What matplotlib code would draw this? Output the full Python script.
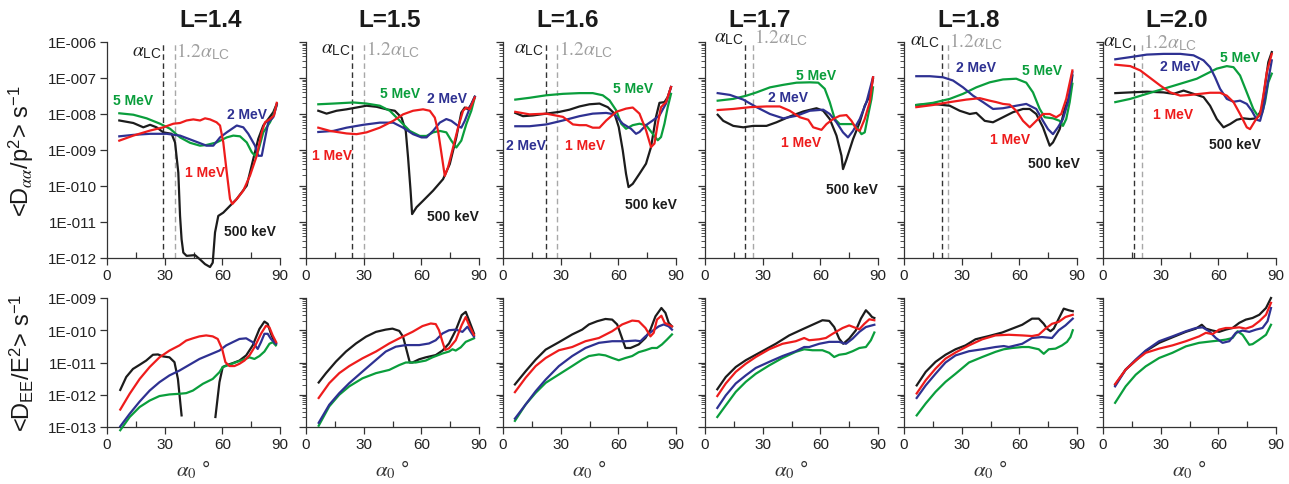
import numpy as np
import matplotlib
matplotlib.use('Agg')
import matplotlib.pyplot as plt
import matplotlib.transforms as mtransforms
from matplotlib.ticker import FixedLocator, FuncFormatter, LogLocator, NullFormatter, NullLocator

plt.rcParams['font.family'] = ['Liberation Sans', 'DejaVu Sans']
plt.rcParams['mathtext.fontset'] = 'stix'

# ---------------- data ----------------
L_titles = ['L=1.4', 'L=1.5', 'L=1.6', 'L=1.7', 'L=1.8', 'L=2.0']
energies = ['500 keV', '1 MeV', '2 MeV', '5 MeV']
alc = [29.3, 23.8, 22.2, 20.8, 19.6, 16.1]
alc12 = [35.3, 30.2, 28.3, 24.8, 22.7, 20.1]

# Top row: pitch-angle diffusion <Daa/p^2> (log10 values) vs equatorial pitch angle (deg)
aa14_500 = [6.4,13.7,18.9,22.4,25.8,29.3,33.6,35.4,37.1,38.0,38.8,39.7,41.4,45.8,48.4,51.0,53.6,55.0,56.2,57.9,60.5,64.0,67.5,72.7,76.1,78.7,81.3,83.9,86.5,88.3]
la14_500 = [-8.18,-8.25,-8.37,-8.30,-8.37,-8.51,-8.55,-8.79,-9.63,-10.83,-11.48,-11.85,-11.94,-11.92,-12.04,-12.17,-12.25,-12.13,-11.29,-10.83,-10.74,-10.55,-10.36,-9.99,-9.25,-8.69,-8.32,-8.14,-7.95,-7.72]
aa14_1 = [6.4,13.7,22.4,29.3,34.5,38.0,41.4,44.9,48.4,51.0,53.6,57.0,58.8,60.5,62.3,64.0,65.2,67.5,70.9,74.4,77.9,80.5,82.2,84.8,86.9,88.3]
la14_1 = [-8.74,-8.60,-8.46,-8.37,-8.27,-8.25,-8.18,-8.15,-8.18,-8.12,-8.15,-8.23,-8.32,-8.79,-9.62,-10.36,-10.50,-10.36,-10.13,-9.71,-9.16,-8.51,-8.23,-8.14,-8.04,-7.69]
aa14_2 = [6.4,13.7,22.4,31.0,38.0,44.9,51.8,55.3,58.8,62.3,67.5,70.9,73.5,77.0,78.7,80.5,82.2,83.9,86.5,88.3]
la14_2 = [-8.62,-8.58,-8.55,-8.55,-8.60,-8.74,-8.88,-8.88,-8.65,-8.51,-8.32,-8.37,-8.55,-8.88,-9.16,-9.16,-8.69,-8.23,-8.09,-7.75]
aa14_5 = [6.4,13.7,20.6,27.6,32.8,38.0,43.2,48.4,51.8,57.0,62.3,65.7,69.2,72.7,75.3,77.0,78.7,81.3,84.8,86.5,88.3]
la14_5 = [-7.98,-8.02,-8.12,-8.27,-8.41,-8.65,-8.80,-8.88,-8.86,-8.79,-8.65,-8.60,-8.62,-8.79,-9.06,-9.16,-9.02,-8.51,-8.23,-8.04,-7.75]

aa15_500 = [6.4,10.7,15.9,21.1,26.3,31.5,36.7,41.9,46.2,49.7,51.9,53.1,54.4,55.2,57.5,60.9,66.1,71.3,74.8,78.2,80.8,82.6,84.3,86.0,87.8]
la15_500 = [-7.91,-7.99,-7.91,-7.87,-7.82,-7.77,-7.80,-7.87,-7.91,-8.10,-8.47,-9.21,-10.13,-10.78,-10.59,-10.41,-10.13,-9.81,-9.39,-8.65,-7.96,-7.82,-7.87,-7.73,-7.52]
aa15_1 = [6.4,12.5,21.1,26.3,31.5,38.4,45.4,50.5,55.7,60.9,64.4,67.0,68.7,70.5,72.2,73.9,76.5,79.1,81.7,83.4,85.2,87.8]
la15_1 = [-8.38,-8.47,-8.54,-8.56,-8.51,-8.38,-8.19,-8.01,-7.91,-7.87,-7.91,-8.10,-8.47,-9.11,-9.72,-9.48,-8.93,-8.38,-7.91,-7.82,-7.87,-7.54]
aa15_2 = [6.4,14.2,21.1,29.8,38.4,45.4,50.5,55.7,60.1,62.7,66.1,69.6,73.0,75.6,79.1,80.8,82.6,84.3,86.0,87.8]
la15_2 = [-8.50,-8.47,-8.38,-8.30,-8.24,-8.24,-8.38,-8.56,-8.65,-8.65,-8.47,-8.24,-8.14,-8.19,-8.33,-8.38,-8.19,-7.96,-7.73,-7.52]
aa15_5 = [6.4,14.2,24.6,31.5,38.4,43.6,48.8,54.0,59.2,62.7,66.1,69.6,73.0,75.6,78.2,80.8,83.4,86.0,87.8]
la15_5 = [-7.73,-7.71,-7.68,-7.71,-7.77,-7.91,-8.19,-8.47,-8.61,-8.61,-8.51,-8.47,-8.51,-8.74,-8.93,-8.74,-8.28,-7.91,-7.54]

aa16_500 = [6.4,10.4,15.6,22.5,29.4,34.6,39.8,45.0,50.2,54.5,58.0,60.2,62.3,64.0,65.3,67.5,71.0,74.4,77.0,79.6,81.4,84.0,85.7,87.4]
la16_500 = [-7.97,-8.06,-8.04,-7.99,-7.94,-7.88,-7.79,-7.73,-7.71,-7.81,-7.99,-8.36,-9.01,-9.66,-10.03,-9.94,-9.66,-9.38,-8.92,-8.08,-7.69,-7.67,-7.53,-7.25]
aa16_1 = [6.4,13.8,22.5,31.2,36.4,39.8,43.3,46.7,50.2,53.7,58.9,64.0,67.5,71.0,74.4,77.0,78.8,80.5,82.2,84.8,87.4]
la16_1 = [-7.94,-8.01,-7.99,-8.08,-8.29,-8.31,-8.31,-8.38,-8.38,-8.18,-7.94,-7.85,-7.82,-7.99,-8.45,-8.92,-8.82,-8.27,-7.81,-7.67,-7.25]
aa16_2 = [6.4,13.8,22.5,31.2,39.8,46.7,53.7,58.0,62.3,66.6,69.2,71.0,74.4,77.9,81.4,84.8,87.4]
la16_2 = [-8.34,-8.34,-8.29,-8.18,-8.06,-7.99,-7.97,-8.01,-8.27,-8.41,-8.55,-8.50,-8.31,-8.18,-8.04,-7.71,-7.25]
aa16_5 = [6.4,13.8,22.5,31.2,39.8,46.7,51.9,55.4,58.9,61.5,64.0,67.5,71.0,74.4,77.9,80.5,82.2,84.0,85.7,87.4]
la16_5 = [-7.60,-7.55,-7.48,-7.44,-7.42,-7.42,-7.48,-7.62,-7.90,-8.27,-8.41,-8.31,-8.27,-8.31,-8.55,-8.73,-8.64,-8.27,-7.81,-7.44]

aa17_500 = [6.6,9.5,14.7,19.9,25.1,32.0,37.2,44.1,51.1,58.0,61.5,64.9,68.4,71.0,71.8,73.6,77.0,80.5,83.1,85.7,87.4]
la17_500 = [-8.02,-8.19,-8.33,-8.37,-8.33,-8.33,-8.23,-8.07,-7.93,-7.84,-7.91,-8.14,-8.60,-9.16,-9.53,-9.26,-8.70,-8.23,-7.77,-7.49,-7.02]
aa17_1 = [6.6,14.7,23.4,32.0,38.9,44.1,49.3,53.7,56.3,60.6,63.2,66.6,70.1,73.6,76.2,78.8,80.5,83.1,85.7,87.4]
la17_1 = [-7.89,-7.86,-7.81,-7.79,-7.79,-7.91,-8.09,-8.16,-8.37,-8.44,-8.28,-8.14,-8.05,-8.03,-8.19,-8.42,-8.47,-8.14,-7.67,-6.98]
aa17_2 = [6.6,13.0,19.9,26.8,33.8,40.7,47.6,54.5,61.5,64.9,68.4,71.8,74.4,77.0,80.5,84.0,87.4]
la17_2 = [-7.42,-7.47,-7.60,-7.81,-8.00,-8.12,-8.05,-7.91,-7.88,-8.00,-8.23,-8.51,-8.65,-8.47,-8.14,-7.67,-6.98]
aa17_5 = [6.6,14.7,21.6,26.8,33.8,40.7,47.6,54.5,58.9,62.3,64.9,67.5,70.1,73.6,77.0,79.6,81.4,83.1,84.8,86.6,87.4]
la17_5 = [-7.63,-7.58,-7.49,-7.40,-7.26,-7.19,-7.13,-7.12,-7.13,-7.30,-7.67,-8.14,-8.28,-8.28,-8.28,-8.42,-8.56,-8.51,-8.05,-7.58,-7.26]

aa18_500 = [6.4,15.1,23.8,29.0,34.2,37.6,42.0,46.3,51.5,56.7,61.9,65.4,68.8,72.3,75.8,77.5,81.0,83.6,86.2,87.6]
la18_500 = [-7.75,-7.72,-7.77,-7.91,-8.00,-7.97,-8.19,-8.23,-8.09,-7.95,-7.86,-7.86,-8.00,-8.37,-8.88,-8.79,-8.42,-7.86,-7.49,-6.93]
aa18_1 = [6.4,15.1,23.8,32.4,39.4,44.6,48.0,51.5,55.0,58.4,61.9,65.4,68.8,72.3,75.8,79.2,81.8,84.4,87.6]
la18_1 = [-7.81,-7.75,-7.67,-7.60,-7.56,-7.63,-7.67,-7.72,-7.74,-7.91,-8.19,-8.37,-8.19,-8.00,-8.00,-8.09,-8.00,-7.58,-6.79]
aa18_2 = [6.4,13.4,20.3,25.5,30.7,35.9,41.1,46.3,51.5,58.4,63.6,68.8,72.3,74.9,77.5,80.1,82.7,85.3,87.6]
la18_2 = [-6.95,-6.95,-6.98,-7.07,-7.26,-7.49,-7.67,-7.86,-7.84,-7.77,-7.72,-7.86,-8.19,-8.42,-8.56,-8.37,-8.14,-7.67,-6.84]
aa18_5 = [6.4,15.1,23.8,30.7,37.6,44.6,51.5,58.4,63.6,67.1,70.6,73.2,77.5,81.0,82.7,84.4,86.2,87.6]
la18_5 = [-7.75,-7.69,-7.58,-7.44,-7.26,-7.12,-7.04,-7.02,-7.13,-7.40,-7.86,-8.09,-8.12,-8.19,-8.33,-8.14,-7.67,-7.16]

aa20_500 = [6.4,14.2,22.8,31.5,36.7,41.9,47.1,52.3,55.7,59.2,62.7,66.1,69.6,73.0,76.5,80.0,82.6,84.3,86.0,87.8]
la20_500 = [-7.42,-7.40,-7.38,-7.40,-7.44,-7.35,-7.44,-7.53,-7.77,-8.14,-8.37,-8.28,-8.16,-8.12,-8.14,-8.12,-7.86,-7.21,-6.56,-6.28]
aa20_1 = [6.4,14.2,19.4,24.6,29.8,35.0,40.2,45.4,50.5,55.7,60.9,64.4,67.9,71.3,74.8,76.5,79.1,81.7,83.4,85.2,87.8]
la20_1 = [-6.63,-6.67,-6.79,-7.00,-7.21,-7.40,-7.49,-7.47,-7.44,-7.41,-7.41,-7.49,-7.67,-8.00,-8.37,-8.42,-8.19,-8.00,-7.49,-6.84,-6.33]
aa20_2 = [6.4,14.2,22.8,31.5,40.2,47.1,52.3,55.7,58.3,60.9,64.4,67.9,71.3,74.8,77.4,80.0,81.7,83.4,85.2,87.8]
la20_2 = [-6.48,-6.42,-6.35,-6.33,-6.33,-6.37,-6.51,-6.70,-6.98,-7.30,-7.58,-7.66,-7.63,-7.72,-7.91,-8.16,-8.19,-7.86,-7.30,-6.51]
aa20_5 = [6.4,14.2,22.8,31.5,40.2,48.8,54.0,59.2,64.4,67.9,71.3,74.8,78.2,80.8,82.6,84.3,86.0,87.8]
la20_5 = [-7.67,-7.58,-7.44,-7.30,-7.16,-7.02,-6.88,-6.74,-6.67,-6.70,-6.93,-7.40,-7.86,-8.07,-8.00,-7.67,-7.12,-6.88]

# Bottom row: energy diffusion <DEE/E^2> (log10 values)
nan = float('nan')
ae14_500 = [6.9,10.0,13.5,17.0,20.4,23.9,26.5,29.1,32.5,35.1,36.9,38.1,38.8,nan,56.4,57.1,58.5,60.2,62.8,65.4,68.9,72.4,75.8,79.3,81.9,83.6,85.3,86.8,88.0]
le14_500 = [-11.85,-11.45,-11.20,-11.07,-10.94,-10.76,-10.75,-10.81,-10.84,-10.99,-11.51,-12.23,-12.64,nan,-12.69,-12.33,-11.61,-11.14,-11.07,-11.02,-10.94,-10.78,-10.47,-9.96,-9.73,-9.80,-10.11,-10.32,-10.42]
ae14_1 = [6.9,11.8,17.0,22.2,27.3,32.5,37.7,41.2,44.7,48.1,51.6,55.0,57.6,59.9,61.6,63.7,66.3,68.9,71.5,74.1,76.7,80.1,82.7,84.5,86.2,88.0]
le14_1 = [-12.46,-11.97,-11.51,-11.14,-10.84,-10.63,-10.47,-10.32,-10.25,-10.19,-10.16,-10.19,-10.27,-10.58,-10.99,-11.11,-11.11,-11.04,-10.94,-10.78,-10.53,-10.11,-9.86,-9.91,-10.16,-10.37]
ae14_2 = [6.9,11.8,17.0,22.2,27.3,32.5,37.7,42.9,48.1,53.3,58.5,62.0,65.4,68.9,72.4,75.8,78.4,80.1,81.9,83.6,85.3,87.8]
le14_2 = [-12.98,-12.59,-12.21,-11.87,-11.61,-11.40,-11.25,-11.07,-10.89,-10.76,-10.63,-10.47,-10.37,-10.27,-10.25,-10.37,-10.58,-10.37,-10.11,-10.11,-10.27,-10.42]
ae14_5 = [6.9,11.8,17.0,22.2,27.3,32.5,37.7,41.2,44.7,49.9,55.0,58.5,60.2,63.7,67.2,70.6,74.1,76.7,79.3,81.9,84.5,86.2,87.8]
le14_5 = [-13.1,-12.69,-12.38,-12.18,-12.04,-11.99,-11.97,-11.95,-11.87,-11.66,-11.51,-11.30,-11.14,-11.07,-10.99,-10.92,-10.84,-10.89,-10.80,-10.66,-10.42,-10.37,-10.47]

ae15_500 = [6.6,10.4,15.6,20.8,26.0,31.2,36.4,41.5,45.0,48.5,50.5,52.3,54.0,55.4,58.9,62.3,67.5,71.0,74.4,77.9,81.0,83.1,84.8,87.4]
le15_500 = [-11.62,-11.33,-10.97,-10.66,-10.41,-10.20,-10.05,-9.98,-9.95,-10.02,-10.20,-10.61,-11.00,-11.00,-10.90,-10.84,-10.77,-10.63,-10.41,-10.00,-9.53,-9.43,-9.69,-10.10]
ae15_1 = [6.6,12.1,17.3,22.5,29.4,36.4,43.3,50.2,55.4,60.6,64.9,67.5,69.2,71.0,72.4,74.4,77.9,81.0,83.1,84.8,87.4]
le15_1 = [-12.10,-11.64,-11.33,-11.11,-10.87,-10.66,-10.41,-10.20,-10.05,-9.87,-9.79,-9.81,-10.00,-10.36,-10.61,-10.56,-10.31,-9.84,-9.59,-9.84,-10.15]
ae15_2 = [6.6,12.1,17.3,22.5,29.4,36.4,41.5,46.7,51.9,58.9,64.0,67.5,71.0,74.4,77.9,81.4,84.0,85.7,87.4]
le15_2 = [-12.87,-12.31,-11.95,-11.64,-11.28,-10.92,-10.66,-10.51,-10.46,-10.46,-10.41,-10.31,-10.10,-10.00,-9.98,-10.05,-9.89,-10.05,-10.20]
ae15_5 = [6.6,12.1,17.3,22.5,29.4,36.4,43.3,48.5,51.9,57.1,62.3,65.8,71.0,74.4,76.2,77.9,80.5,83.1,87.4]
le15_5 = [-12.96,-12.36,-12.00,-11.74,-11.49,-11.33,-11.23,-11.08,-11.00,-11.00,-10.94,-10.84,-10.72,-10.66,-10.59,-10.63,-10.53,-10.36,-10.25]

ae16_500 = [6.2,11.8,17.0,22.2,29.1,36.0,41.2,44.7,49.0,53.3,56.8,59.4,61.6,63.7,66.3,70.6,74.1,76.7,79.3,82.4,84.5,86.2,87.9]
le16_500 = [-11.68,-11.27,-10.91,-10.60,-10.37,-10.13,-9.98,-9.82,-9.72,-9.65,-9.67,-9.82,-10.19,-10.55,-10.55,-10.44,-10.24,-9.98,-9.57,-9.31,-9.46,-9.77,-9.88]
ae16_1 = [6.2,11.8,17.0,22.2,29.1,36.0,42.9,49.9,56.8,62.0,67.2,70.6,74.1,76.7,78.4,80.1,82.4,84.1,87.9]
le16_1 = [-11.92,-11.47,-11.11,-10.86,-10.62,-10.52,-10.34,-10.24,-10.03,-9.82,-9.70,-9.72,-9.93,-10.19,-10.08,-9.67,-9.55,-9.77,-9.88]
ae16_2 = [6.2,11.8,17.0,22.2,29.1,36.0,42.9,49.9,56.8,63.7,68.9,71.5,74.1,77.5,81.0,83.6,86.2,87.9]
le16_2 = [-12.74,-12.30,-11.89,-11.53,-11.11,-10.80,-10.55,-10.39,-10.34,-10.34,-10.32,-10.34,-10.19,-10.03,-9.88,-9.82,-9.88,-9.98]
ae16_5 = [6.2,11.8,17.0,22.2,29.1,36.0,41.2,44.7,49.9,53.3,56.8,60.2,63.7,67.2,70.6,74.1,77.5,80.1,82.7,85.3,87.9]
le16_5 = [-12.81,-12.30,-11.94,-11.63,-11.37,-11.11,-10.91,-10.80,-10.75,-10.78,-10.86,-10.93,-10.86,-10.80,-10.68,-10.62,-10.55,-10.55,-10.44,-10.29,-10.13]

ae17_500 = [6.4,10.8,16.0,21.2,26.4,31.6,36.8,43.8,50.7,55.9,61.1,64.6,67.2,69.8,71.9,75.0,78.5,81.1,83.7,85.5,86.9,88.1]
le17_500 = [-11.83,-11.45,-11.14,-10.93,-10.76,-10.59,-10.42,-10.16,-9.97,-9.83,-9.69,-9.71,-9.90,-10.26,-10.42,-10.26,-10.00,-9.64,-9.38,-9.49,-9.59,-9.62]
ae17_1 = [6.4,10.8,16.0,21.2,26.4,33.4,40.3,47.2,51.6,54.2,59.4,62.9,66.4,71.6,75.0,78.5,80.3,82.9,85.5,88.1]
le17_1 = [-12.04,-11.65,-11.29,-11.04,-10.83,-10.59,-10.42,-10.34,-10.24,-10.31,-10.28,-10.24,-10.11,-9.93,-9.85,-9.93,-9.97,-9.80,-9.66,-9.69]
ae17_2 = [6.4,10.8,16.0,21.2,26.4,33.4,40.3,47.2,51.6,54.2,59.4,64.6,69.8,73.3,76.8,80.3,83.7,88.1]
le17_2 = [-12.41,-12.02,-11.65,-11.40,-11.17,-10.98,-10.80,-10.65,-10.52,-10.52,-10.42,-10.36,-10.36,-10.42,-10.26,-10.05,-9.90,-9.83]
ae17_5 = [6.4,10.8,16.0,21.2,26.4,33.4,40.3,47.2,51.6,55.9,61.1,64.6,67.2,69.8,73.3,76.8,80.3,83.7,86.3,88.1]
le17_5 = [-12.69,-12.33,-11.91,-11.60,-11.35,-11.09,-10.86,-10.67,-10.59,-10.62,-10.62,-10.70,-10.83,-10.76,-10.73,-10.65,-10.55,-10.52,-10.31,-10.07]

ae18_500 = [6.6,11.3,16.4,21.6,26.8,32.0,37.2,44.1,51.1,56.3,61.5,66.6,70.1,72.7,74.4,76.2,77.9,80.5,83.1,85.7,87.8]
le18_500 = [-11.71,-11.29,-10.98,-10.76,-10.59,-10.47,-10.28,-10.18,-10.07,-9.95,-9.83,-9.64,-9.64,-9.80,-9.95,-10.03,-9.95,-9.64,-9.33,-9.38,-9.41]
ae18_1 = [6.6,11.3,16.4,21.6,26.8,33.8,40.7,47.6,54.5,61.5,66.6,70.1,73.6,77.0,80.5,84.0,87.8]
le18_1 = [-11.96,-11.55,-11.19,-10.88,-10.69,-10.47,-10.28,-10.16,-10.14,-10.16,-10.18,-10.14,-9.95,-9.80,-9.74,-9.59,-9.52]
ae18_2 = [6.6,11.3,16.4,21.6,26.8,33.8,40.7,47.6,51.9,54.5,61.5,66.6,71.8,77.0,80.5,84.0,87.8]
le18_2 = [-12.10,-11.71,-11.35,-11.00,-10.78,-10.65,-10.59,-10.52,-10.49,-10.52,-10.42,-10.24,-10.21,-10.24,-10.00,-9.85,-9.64]
ae18_5 = [6.6,11.3,16.4,21.6,26.8,33.8,40.7,47.6,51.9,56.3,61.5,64.9,70.1,72.7,75.3,78.8,82.2,84.8,86.6,87.8]
le18_5 = [-12.64,-12.27,-11.91,-11.60,-11.35,-11.00,-10.83,-10.67,-10.59,-10.55,-10.52,-10.52,-10.59,-10.73,-10.59,-10.57,-10.47,-10.36,-10.21,-10.00]

ae20_500 = [6.3,11.8,17.0,22.2,29.2,36.1,43.1,48.3,51.4,53.5,57.0,60.4,63.9,67.4,70.9,74.3,77.8,81.3,84.8,87.4]
le20_500 = [-11.69,-11.22,-10.94,-10.65,-10.39,-10.22,-10.05,-9.95,-9.83,-9.95,-10.01,-10.05,-9.98,-9.93,-9.77,-9.67,-9.62,-9.52,-9.31,-9.00]
ae20_1 = [6.3,11.8,17.0,22.2,29.2,36.1,43.1,50.0,53.5,57.0,60.4,63.9,67.4,70.9,74.3,77.8,81.3,84.8,87.4]
le20_1 = [-11.67,-11.22,-10.94,-10.70,-10.57,-10.47,-10.34,-10.19,-10.08,-10.12,-9.98,-9.93,-9.93,-9.91,-9.95,-9.88,-9.72,-9.52,-9.15]
ae20_2 = [6.3,11.8,17.0,22.2,29.2,36.1,43.1,48.3,51.8,55.2,58.7,62.2,65.7,69.1,72.6,76.1,79.6,83.0,85.6,87.4]
le20_2 = [-11.74,-11.22,-10.91,-10.63,-10.34,-10.19,-10.03,-9.93,-9.91,-10.03,-10.24,-10.39,-10.34,-10.08,-10.01,-10.05,-9.98,-9.93,-9.72,-9.31]
ae20_5 = [6.3,11.8,17.0,22.2,29.2,36.1,43.1,50.0,57.0,60.4,63.9,67.4,70.0,72.6,76.1,77.8,81.3,84.8,87.4]
le20_5 = [-12.25,-11.74,-11.38,-11.12,-10.86,-10.70,-10.50,-10.39,-10.34,-10.32,-10.29,-10.24,-10.03,-10.14,-10.45,-10.43,-10.29,-10.14,-9.83]

top_series = [
    [(aa14_500, la14_500), (aa14_1, la14_1), (aa14_2, la14_2), (aa14_5, la14_5)],
    [(aa15_500, la15_500), (aa15_1, la15_1), (aa15_2, la15_2), (aa15_5, la15_5)],
    [(aa16_500, la16_500), (aa16_1, la16_1), (aa16_2, la16_2), (aa16_5, la16_5)],
    [(aa17_500, la17_500), (aa17_1, la17_1), (aa17_2, la17_2), (aa17_5, la17_5)],
    [(aa18_500, la18_500), (aa18_1, la18_1), (aa18_2, la18_2), (aa18_5, la18_5)],
    [(aa20_500, la20_500), (aa20_1, la20_1), (aa20_2, la20_2), (aa20_5, la20_5)],
]
bot_series = [
    [(ae14_500, le14_500), (ae14_1, le14_1), (ae14_2, le14_2), (ae14_5, le14_5)],
    [(ae15_500, le15_500), (ae15_1, le15_1), (ae15_2, le15_2), (ae15_5, le15_5)],
    [(ae16_500, le16_500), (ae16_1, le16_1), (ae16_2, le16_2), (ae16_5, le16_5)],
    [(ae17_500, le17_500), (ae17_1, le17_1), (ae17_2, le17_2), (ae17_5, le17_5)],
    [(ae18_500, le18_500), (ae18_1, le18_1), (ae18_2, le18_2), (ae18_5, le18_5)],
    [(ae20_500, le20_500), (ae20_1, le20_1), (ae20_2, le20_2), (ae20_5, le20_5)],
]

# energy-label anchor points (alpha, log10 value), order: 500 keV, 1 MeV, 2 MeV, 5 MeV
label_pos = [
    [(60.9, -11.25), (40.6, -9.62), (62.2, -8.0), (3.3, -7.62)],
    [(62.7, -10.84), (3.3, -9.13), (62.7, -7.56), (38.4, -7.43)],
    [(63.5, -10.51), (32.5, -8.87), (1.4, -8.87), (57.1, -7.27)],
    [(62.8, -10.07), (39.3, -8.79), (32.9, -7.53), (47.6, -6.91)],
    [(64.5, -9.37), (44.6, -8.70), (27.2, -6.70), (61.6, -6.79)],
    [(55.4, -8.84), (26.0, -8.0), (29.4, -6.67), (60.9, -6.43)],
]

# ---------------- style / layout ----------------
colors = ['#1c1c1c', '#ee1c1c', '#2e3192', '#0a9e3c']
draw_order = [0, 3, 2, 1]
W, H = 1289, 485
lefts_px = [107, 306, 503, 705, 904, 1103]
title_x = [0.60, 0.486, 0.376, 0.318, 0.376, 0.428]
lc_label_y = [0.958, 0.968, 0.968, 1.023, 1.005, 1.0]

fig = plt.figure(figsize=(W / 100, H / 100), dpi=100)


def style_axes(ax, first, ylim):
    ax.set_yscale('log')
    ax.set_xlim(0, 90)
    ax.set_ylim(*ylim)
    for s in ['top', 'right']:
        ax.spines[s].set_visible(False)
    for s in ['left', 'bottom']:
        ax.spines[s].set_color('#333333')
        ax.spines[s].set_linewidth(0.9)
    ax.xaxis.set_major_locator(FixedLocator([0, 30, 60, 90]))
    ax.xaxis.set_minor_locator(FixedLocator([15, 45, 75]))
    ax.yaxis.set_major_locator(LogLocator(base=10, numticks=20))
    if first:
        ax.yaxis.set_minor_locator(NullLocator())
        ax.yaxis.set_major_formatter(FuncFormatter(
            lambda v, p: "1E-%03d" % int(round(-np.log10(v)))))
    else:
        ax.yaxis.set_minor_locator(LogLocator(base=10, subs=np.arange(2, 10), numticks=20))
        ax.yaxis.set_major_formatter(NullFormatter())
    ax.yaxis.set_minor_formatter(NullFormatter())
    ax.tick_params(axis='both', which='major', direction='out', length=5, width=0.9,
                   colors='#333333', labelcolor='#222222', labelsize=11, pad=2)
    ax.tick_params(axis='x', which='minor', direction='in', length=4, width=0.9, colors='#333333')
    ax.tick_params(axis='y', which='minor', direction='out', length=3, width=0.6, colors='#333333')


for i in range(6):
    l = lefts_px[i] / W
    axt = fig.add_axes([l, 1 - 259 / H, 173 / W, 216 / H])
    axb = fig.add_axes([l, 1 - 428 / H, 173 / W, 129 / H])
    style_axes(axt, i == 0, (1e-12, 1e-6))
    style_axes(axb, i == 0, (1e-13, 1e-9))

    # loss cone lines
    axt.axvline(alc[i], color='#333333', ls=(0, (4, 2.5)), lw=1.0, zorder=1)
    axt.axvline(alc12[i], color='#a8a8a8', ls=(0, (4, 2.5)), lw=1.0, zorder=1)
    trans = mtransforms.blended_transform_factory(axt.transData, axt.transAxes)
    axt.text(alc[i] - 0.8, lc_label_y[i], r'$\alpha_{\mathregular{LC}}$', transform=trans,
             ha='right', va='center', fontsize=14, color='#222222')
    axt.text(alc12[i] + 0.8, lc_label_y[i], r'$1.2\alpha_{\mathregular{LC}}$', transform=trans,
             ha='left', va='center', fontsize=14, color='#a0a0a0')

    for k in draw_order:
        a, lg = top_series[i][k]
        axt.plot(a, 10 ** np.array(lg), color=colors[k], lw=1.6, clip_on=False, zorder=3)
        a, lg = bot_series[i][k]
        axb.plot(a, 10 ** np.array(lg), color=colors[k], lw=1.6, clip_on=False, zorder=3)

    for k in range(4):
        x, y = label_pos[i][k]
        axt.text(x, 10 ** y, energies[k], color=colors[k], fontsize=10, fontweight='bold',
                 ha='left', va='center', zorder=4)

    axt.text(title_x[i], 1.106, L_titles[i], transform=axt.transAxes, ha='center', va='center',
             fontsize=17.5, fontweight='bold', color='#1a1a1a')
    axb.set_xlabel(r'$\alpha_0$ °', fontsize=15, labelpad=5, color='#333333')

fig.text(21 / W, 1 - 151 / H, r'<D$_{\alpha\alpha}$/p$^{\mathregular{2}}$> s$^{\mathregular{-1}}$',
         rotation=90, ha='center', va='center', fontsize=17, color='#1a1a1a')
fig.text(22 / W, 1 - 363 / H, r'<D$_{\mathregular{EE}}$/E$^{\mathregular{2}}$> s$^{\mathregular{-1}}$',
         rotation=90, ha='center', va='center', fontsize=17, color='#1a1a1a')

fig.savefig('out.png', dpi=100)
